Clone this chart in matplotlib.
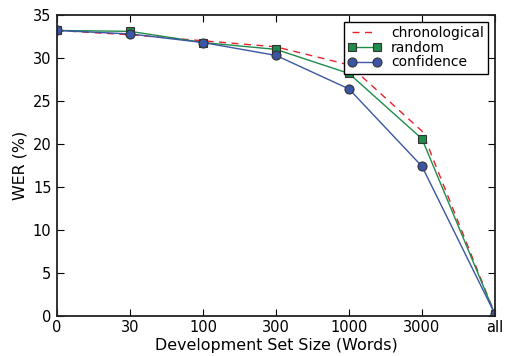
import matplotlib
matplotlib.use('Agg')
import matplotlib.pyplot as plt

sizes = ['0', '30', '100', '300', '1000', '3000', 'all']
chronological = [33.2, 32.7, 32.0, 31.3, 29.2, 21.5, 0.2]
random_sel = [33.2, 33.1, 31.8, 31.0, 28.2, 20.6, 0.2]
confidence = [33.2, 32.8, 31.8, 30.3, 26.4, 17.4, 0.2]

plt.rcParams['font.family'] = 'DejaVu Sans'

fig = plt.figure(figsize=(5.05, 3.56), dpi=100)
ax = fig.add_axes([57 / 505, 40 / 356, 438 / 505, 301 / 356])

x = list(range(len(sizes)))
ax.plot(x, chronological, '--', color='#e8222a', lw=1.0, dashes=(5, 4), label='chronological')
ax.plot(x, random_sel, '-', color='#1e8c4a', lw=1.0, marker='s', ms=6,
        mfc='#1e8c4a', mec='#333333', mew=0.8, label='random')
ax.plot(x, confidence, '-', color='#3a56a5', lw=1.0, marker='o', ms=6.5,
        mfc='#3a56a5', mec='#333333', mew=0.8, label='confidence')

ax.set_xlim(0, len(sizes) - 1)
ax.set_ylim(0, 35)
ax.set_xticks(x)
ax.set_xticklabels(sizes)
ax.set_yticks(range(0, 36, 5))
ax.tick_params(direction='in', top=True, right=True, length=5, width=0.8, labelsize=10.5)
ax.tick_params(axis='x', pad=3)
ax.tick_params(axis='y', pad=4)
for s in ax.spines.values():
    s.set_linewidth(1.3)
    s.set_color('#222222')
ax.set_xlabel('Development Set Size (Words)', fontsize=11.4, labelpad=2)
ax.set_ylabel('WER (%)', fontsize=11.4, labelpad=4)

leg = ax.legend(loc='upper right', fontsize=10, fancybox=False, framealpha=1,
                edgecolor='black', borderpad=0.3, labelspacing=0.05, numpoints=2,
                handlelength=2.4, handletextpad=0.7, borderaxespad=0.5)
leg.get_frame().set_linewidth(1.0)

fig.savefig('out.png', dpi=100)
